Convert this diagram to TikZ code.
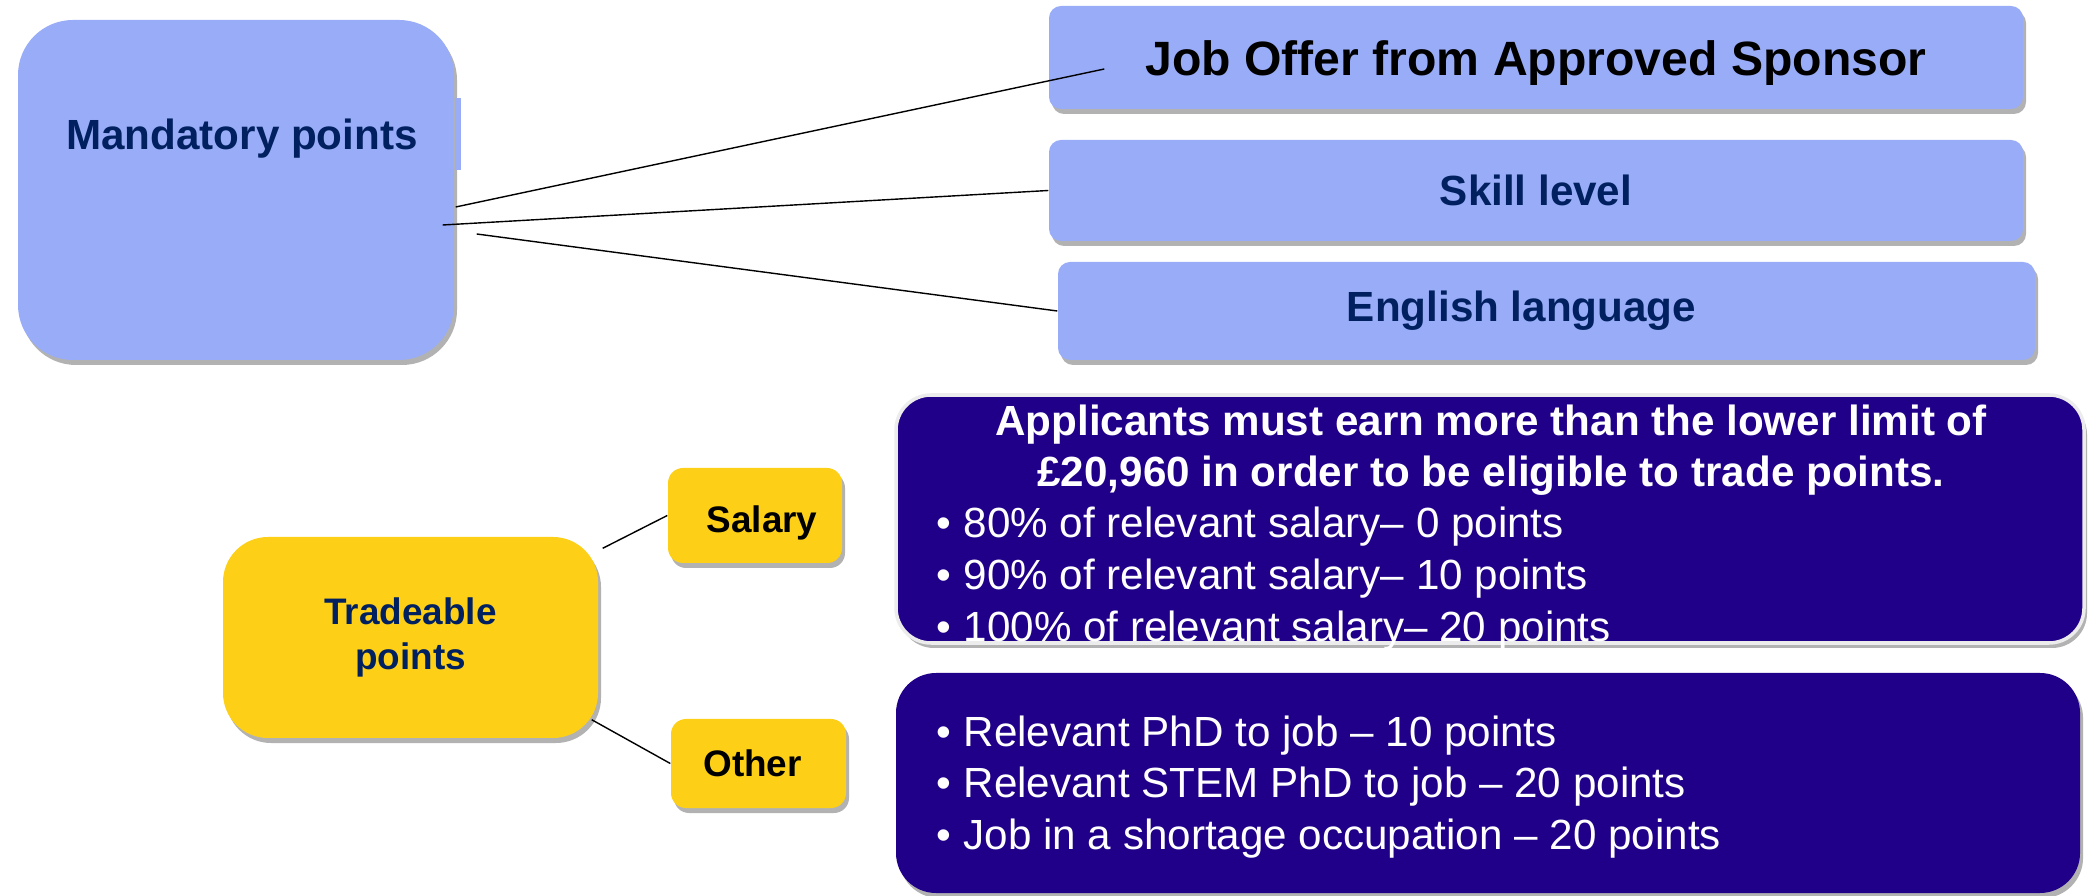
\documentclass[tikz,border=0pt]{standalone}
\usepackage{fontspec}
\setmainfont{Liberation Sans}
\usepackage{tikz}
\usetikzlibrary{shadows,calc}
\definecolor{periwinkle}{RGB}{153,172,247}
\definecolor{navytext}{RGB}{0,32,96}
\definecolor{tradegold}{RGB}{253,208,23}
\definecolor{indigofill}{RGB}{33,0,137}
\newcommand{\bulletmark}{\makebox[0.27cm][l]{•}}

\begin{document}
\begin{tikzpicture}[
		boxshadow/.style={drop shadow={shadow xshift=0.03cm,shadow yshift=-0.05cm,fill=black,opacity=0.3}},
		bluebox/.style={rectangle,fill=periwinkle,boxshadow,inner sep=0pt,text=navytext,font=\bfseries\fontsize{12}{14}\selectfont},
		yellowbox/.style={rectangle,fill=tradegold,boxshadow,inner sep=0pt,text=black,font=\bfseries\fontsize{10.5}{12.8}\selectfont},
		infobox/.style={rectangle,fill=indigofill,boxshadow,inner sep=0pt},
		headline/.style={text=white,inner sep=0pt,anchor=base,font=\bfseries\fontsize{12}{14}\selectfont},
		bulletline/.style={text=white,inner sep=0pt,anchor=base west,font=\fontsize{12}{14}\selectfont},
		link/.style={draw=black,line width=0.4pt}
	]
	\useasboundingbox (0,0) rectangle (20.88,-8.96);

	\node[bluebox,minimum width=4.36cm,minimum height=3.40cm,rounded corners=0.55cm] (mand) at (2.36,-1.90) {};
	\fill[periwinkle] ($(mand.east)+(0,0.92)$) rectangle ($(mand.east)+(0.06,0.20)$);
	\node[text=navytext,inner sep=0pt,anchor=base,font=\bfseries\fontsize{12}{14}\selectfont] (mandtext) at (2.42,-1.50) {Mandatory points};

	\node[bluebox,minimum width=9.74cm,minimum height=1.03cm,rounded corners=0.12cm,text=black,text height=0.37cm,text depth=0pt,font=\bfseries\fontsize{13.7}{16}\selectfont] (job) at (15.36,-0.575) {Job Offer from Approved Sponsor};
	\node[bluebox,minimum width=9.74cm,minimum height=1.01cm,rounded corners=0.12cm] (skill) at (15.36,-1.905) {Skill level};
	\node[bluebox,minimum width=9.77cm,minimum height=0.98cm,rounded corners=0.12cm] (eng) at (15.465,-3.11) {English language\hspace*{0.5cm}};

	\node[yellowbox,minimum width=3.75cm,minimum height=2.01cm,rounded corners=0.45cm,text=navytext,align=center] (trade) at (4.105,-6.375) {Tradeable\\points};
	\node[yellowbox,minimum width=1.74cm,minimum height=0.95cm,rounded corners=0.15cm,text height=0.34cm,text depth=0pt] (salary) at (7.55,-5.155) {\hspace*{0.14cm}Salary};
	\node[yellowbox,minimum width=1.75cm,minimum height=0.89cm,rounded corners=0.15cm] (other) at (7.585,-7.635) {Other\hspace*{0.12cm}};

	\node[infobox,draw=white!85!gray,line width=1pt,minimum width=11.88cm,minimum height=2.48cm,rounded corners=0.35cm] (salinfo) at (14.90,-5.19) {};
	\node[headline] (salhead1) at (14.91,-4.36) {Applicants must earn more than the lower limit of};
	\node[headline] (salhead2) at (14.91,-4.87) {£20,960 in order to be eligible to trade points.};
	\foreach \pts [count=\i] in {80\% of relevant salary– 0 points,90\% of relevant salary– 10 points,100\% of relevant salary– 20 points}
	\node[bulletline] (salpt\i) at (9.36,-4.85-0.522*\i) {\bulletmark\pts};

	\node[infobox,minimum width=11.84cm,minimum height=2.20cm,rounded corners=0.40cm] (othinfo) at (14.88,-7.83) {};
	\foreach \pts [count=\i] in {Relevant PhD to job – 10 points,Relevant STEM PhD to job – 20 points,Job in a shortage occupation – 20 points}
	\node[bulletline] (othpt\i) at (9.36,-6.95-0.515*\i) {\bulletmark\pts};

	\coordinate (mandA) at ($(mand.east)+(0.01,-0.17)$);
	\coordinate (mandB) at ($(mand.east)+(-0.12,-0.35)$);
	\coordinate (mandC) at ($(mand.east)+(0.22,-0.44)$);
	\coordinate (jobin) at ($(job.west)+(0.56,-0.115)$);
	\coordinate (tradeA) at ($(trade.north east)+(0.04,-0.12)$);
	\coordinate (tradeB) at ($(trade.south east)+(-0.07,0.19)$);
	\draw[link] (mandA) -- (jobin);
	\draw[link] (mandB) -- (skill.west);
	\draw[link] (mandC) -- (eng.west);
	\draw[link] (tradeA) -- (salary.west);
	\draw[link] (tradeB) -- (other.west);
\end{tikzpicture}
\end{document}
